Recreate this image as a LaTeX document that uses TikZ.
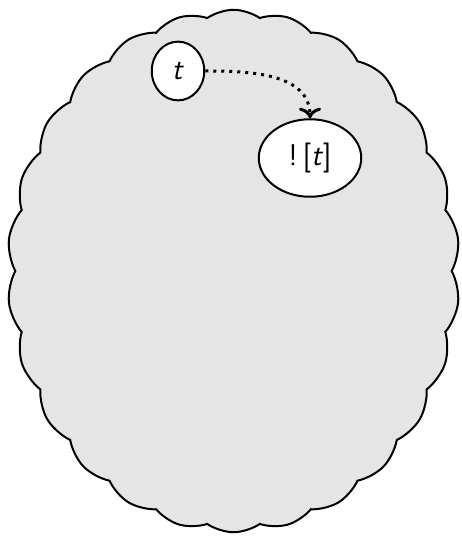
\documentclass[tikz,border=0pt]{standalone}
\usetikzlibrary{arrows.meta,positioning,shapes.geometric,shapes.symbols}
\tikzset{
  region/.style={cloud,cloud puffs=26,cloud puff arc=70,draw,thick,fill=gray!20,
    minimum width=181pt,minimum height=209pt,inner sep=0pt},
  term/.style={ellipse,draw,thick,fill=white,inner sep=1pt,font=\large\sffamily},
  promote/.style={->,dotted,line width=1.2pt}
}

\begin{document}
\begin{tikzpicture}[x=0.4pt,y=-0.4pt]
  \useasboundingbox (0,0) rectangle (461,538);
  \node[region] (R) at (233.5,271) {};
  \node[term,minimum width=21pt,minimum height=23.5pt] (t) at (178,71) {\textsl{t}};
  \node[term,minimum width=41pt,minimum height=31pt] (bt) at (310,158) {!\,[\textsl{t}]};
  \draw[promote] (t.east) to[out=0,in=90] (bt.north);
\end{tikzpicture}
\end{document}
